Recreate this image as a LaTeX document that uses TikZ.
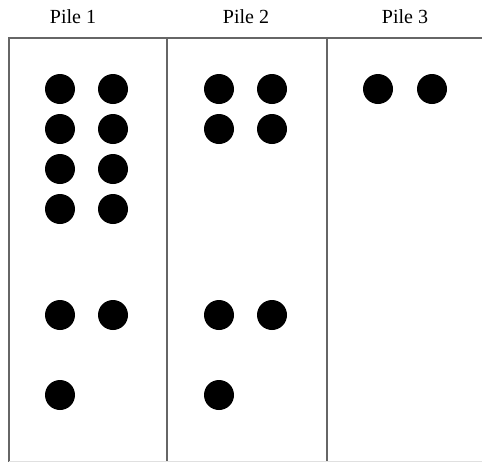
\documentclass[tikz,border=0pt]{standalone}
\usepackage{fontspec}
\setmainfont{Liberation Serif}
\tikzset{
  pile line/.style={draw=black!60, line width=0.75pt},
  counter/.style={fill=black, circle, inner sep=0pt, minimum size=15pt},
  pile label/.style={font=\fontsize{10}{12}\selectfont, inner sep=0pt}
}
\begin{document}
\begin{tikzpicture}[x=0.5pt, y=-0.5pt]
  % 画布范围（像素坐标，y 向下）
  \useasboundingbox (0,0) rectangle (482,462);

  % 标题
  \node[pile label] (p1) at (73,17) {Pile 1};
  \node[pile label] (p2) at (246,17) {Pile 2};
  \node[pile label] (p3) at (405,17) {Pile 3};

  % 外框与分隔线
  \draw[pile line] (482,38) -- (9,38) -- (9,462);
  \draw[pile line] (167,38) -- (167,462);
  \draw[pile line] (327,38) -- (327,462);
  \draw[black!12, line width=0.5pt] (9,461.5) -- (482,461.5);

  % Pile 1
  \foreach \y [count=\i] in {89,129,169,209,315} {
    \node[counter] (a\i) at (60,\y) {};
    \node[counter] (b\i) at (113,\y) {};
  }
  \node[counter] (a6) at (60,395) {};

  % Pile 2
  \foreach \y [count=\i] in {89,129,315} {
    \node[counter] (c\i) at (219,\y) {};
    \node[counter] (d\i) at (272,\y) {};
  }
  \node[counter] (c4) at (219,395) {};

  % Pile 3
  \node[counter] (e1) at (378,89) {};
  \node[counter] (f1) at (432,89) {};

\end{tikzpicture}
\end{document}
